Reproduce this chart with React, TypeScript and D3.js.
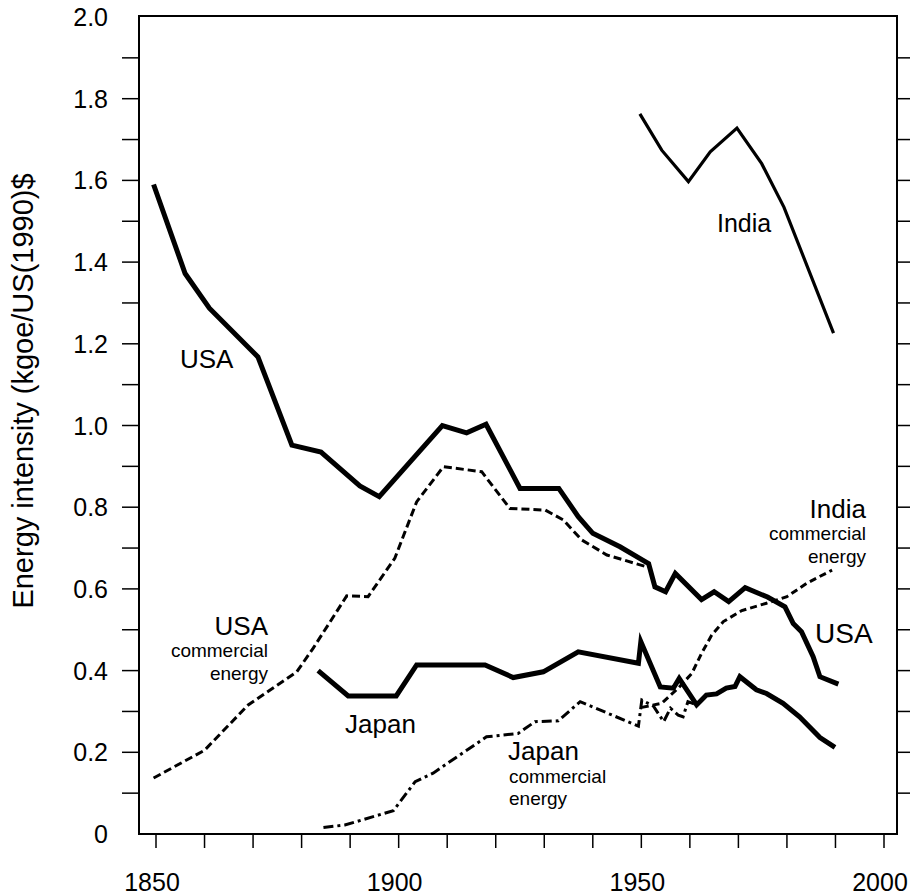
import * as d3 from 'd3';

// Data
const usaYears = [1849.5, 1856, 1861, 1871, 1878, 1884, 1892, 1896, 1909, 1914, 1918, 1925, 1933, 1937, 1940, 1945.6, 1951.5, 1952.8, 1955, 1957, 1962.4, 1965, 1968, 1971.4, 1976, 1979.6, 1981.3, 1983, 1985.4, 1986.8, 1990.6];
const usaValues = [1.59, 1.372, 1.287, 1.168, 0.952, 0.935, 0.852, 0.826, 1.0, 0.982, 1.003, 0.846, 0.846, 0.777, 0.736, 0.703, 0.662, 0.605, 0.593, 0.638, 0.574, 0.593, 0.569, 0.603, 0.58, 0.556, 0.515, 0.495, 0.434, 0.385, 0.367];

const usaCommYears = [1849.5, 1860, 1869, 1879, 1882.4, 1889.3, 1893.7, 1899.2, 1903.7, 1909.2, 1917.1, 1922.9, 1930.2, 1933.9, 1937.7, 1942.9, 1951.1];
const usaCommValues = [0.137, 0.205, 0.316, 0.397, 0.455, 0.583, 0.581, 0.675, 0.813, 0.899, 0.887, 0.797, 0.793, 0.769, 0.72, 0.683, 0.654];

const japanYears = [1883.4, 1889.6, 1899.5, 1903.7, 1917.8, 1923.6, 1929.8, 1937, 1949.4, 1949.9, 1953.9, 1956.6, 1957.8, 1961.4, 1963.4, 1965.5, 1967.5, 1969.3, 1970.3, 1973.7, 1975.8, 1979.2, 1982.6, 1986.8, 1989.9];
const japanValues = [0.4, 0.338, 0.338, 0.414, 0.414, 0.383, 0.397, 0.446, 0.418, 0.471, 0.36, 0.357, 0.381, 0.316, 0.34, 0.343, 0.357, 0.361, 0.385, 0.353, 0.344, 0.32, 0.287, 0.236, 0.212];

const japanCommYears = [1884.5, 1888.9, 1898.9, 1903.4, 1907.1, 1918.1, 1924.6, 1928.1, 1932.9, 1937.4, 1949.4, 1950.1, 1952.5, 1954.6, 1956, 1957.6, 1958.6, 1959.6, 1961.4];
const japanCommValues = [0.016, 0.022, 0.057, 0.128, 0.149, 0.238, 0.246, 0.275, 0.277, 0.324, 0.264, 0.328, 0.313, 0.275, 0.308, 0.291, 0.287, 0.324, 0.316];

const indiaYears = [1949.7, 1954.2, 1959.7, 1964.2, 1969.7, 1974.8, 1979.4, 1989.6];
const indiaValues = [1.763, 1.674, 1.597, 1.67, 1.728, 1.641, 1.534, 1.226];

const indiaCommYears = [1950.1, 1954.2, 1957.6, 1960.4, 1962.4, 1964.5, 1966.9, 1970.7, 1975.8, 1980, 1984.1, 1989.3];
const indiaCommValues = [0.31, 0.32, 0.357, 0.393, 0.442, 0.487, 0.52, 0.547, 0.565, 0.581, 0.614, 0.646];

const xTickLabels = [1850, 1900, 1950, 2000];
const yTickLabels = ['0', '0.2', '0.4', '0.6', '0.8', '1.0', '1.2', '1.4', '1.6', '1.8', '2.0'];

const FONT = '"Liberation Sans", Arial, Helvetica, sans-serif';
const FRAME = { left: 139, right: 897, top: 16, bottom: 834 };

const x = d3.scaleLinear().domain([1850, 2000]).range([156, 884]);
const y = d3.scaleLinear().domain([0, 2]).range([834, 17]);

const pts = (xs: number[], vs: number[]) => xs.map((d, i) => [d, vs[i]] as [number, number]);
const line = d3
  .line<[number, number]>()
  .x((d) => x(d[0]))
  .y((d) => y(d[1]));

export default function App() {
  const minorY = d3.range(1, 20).map((i) => i / 10);
  const xTicks = d3.range(1850, 2001, 10);

  return (
    <div style={{ position: 'absolute', left: 0, top: 0 }}>
      <svg width={910} height={896} style={{ display: 'block', background: '#fff' }}>
        {/* frame */}
        <rect
          x={FRAME.left}
          y={FRAME.top}
          width={FRAME.right - FRAME.left}
          height={FRAME.bottom - FRAME.top}
          fill="none"
          stroke="#000"
          strokeWidth={2}
        />

        {/* left + right ticks */}
        {minorY.map((v) => (
          <g key={v}>
            <line x1={122} x2={FRAME.left} y1={y(v)} y2={y(v)} stroke="#000" strokeWidth={1.5} />
            <line x1={FRAME.right} x2={912} y1={y(v)} y2={y(v)} stroke="#000" strokeWidth={1.5} />
          </g>
        ))}
        {yTickLabels.map((t) => (
          <text
            key={t}
            x={108}
            y={y(+t) + 9}
            textAnchor="end"
            fontFamily={FONT}
            fontSize={25}
            fill="#000"
          >
            {t}
          </text>
        ))}

        {/* bottom ticks */}
        {xTicks.map((t) => (
          <line key={t} x1={x(t)} x2={x(t)} y1={FRAME.bottom} y2={848} stroke="#000" strokeWidth={1.5} />
        ))}
        {xTickLabels.map((t) => (
          <text
            key={t}
            x={x(t) - 4}
            y={891}
            textAnchor="middle"
            fontFamily={FONT}
            fontSize={25}
            fill="#000"
          >
            {t}
          </text>
        ))}

        {/* y axis title */}
        <text
          transform="translate(33,391) rotate(-90)"
          textAnchor="middle"
          fontFamily={FONT}
          fontSize={29}
          fill="#000"
        >
          Energy intensity (kgoe/US(1990)$
        </text>

        {/* series */}
        <path d={line(pts(usaCommYears, usaCommValues)) ?? ''} fill="none" stroke="#000" strokeWidth={3} strokeDasharray="8,4" />
        <path d={line(pts(japanCommYears, japanCommValues)) ?? ''} fill="none" stroke="#000" strokeWidth={3} strokeDasharray="10,4,3,4" />
        <path d={line(pts(indiaCommYears, indiaCommValues)) ?? ''} fill="none" stroke="#000" strokeWidth={3} strokeDasharray="7,4" />
        <path d={line(pts(indiaYears, indiaValues)) ?? ''} fill="none" stroke="#000" strokeWidth={3.2} />
        <path d={line(pts(japanYears, japanValues)) ?? ''} fill="none" stroke="#000" strokeWidth={5} />
        <path d={line(pts(usaYears, usaValues)) ?? ''} fill="none" stroke="#000" strokeWidth={5} />

        {/* labels */}
        <g fontFamily={FONT} fill="#000">
          <text x={180} y={368} fontSize={26}>USA</text>
          <text x={717} y={232} fontSize={25}>India</text>
          <text x={815} y={643} fontSize={28}>USA</text>
          <text x={345} y={733} fontSize={26}>Japan</text>

          <text x={268} y={635} fontSize={26} textAnchor="end">USA</text>
          <text x={268} y={657} fontSize={19} textAnchor="end">commercial</text>
          <text x={268} y={680} fontSize={19} textAnchor="end">energy</text>

          <text x={866} y={518} fontSize={26} textAnchor="end">India</text>
          <text x={866} y={540} fontSize={19} textAnchor="end">commercial</text>
          <text x={866} y={563} fontSize={19} textAnchor="end">energy</text>

          <text x={508} y={760} fontSize={26}>Japan</text>
          <text x={509} y={783} fontSize={19}>commercial</text>
          <text x={509} y={805} fontSize={19}>energy</text>
        </g>
      </svg>
    </div>
  );
}
